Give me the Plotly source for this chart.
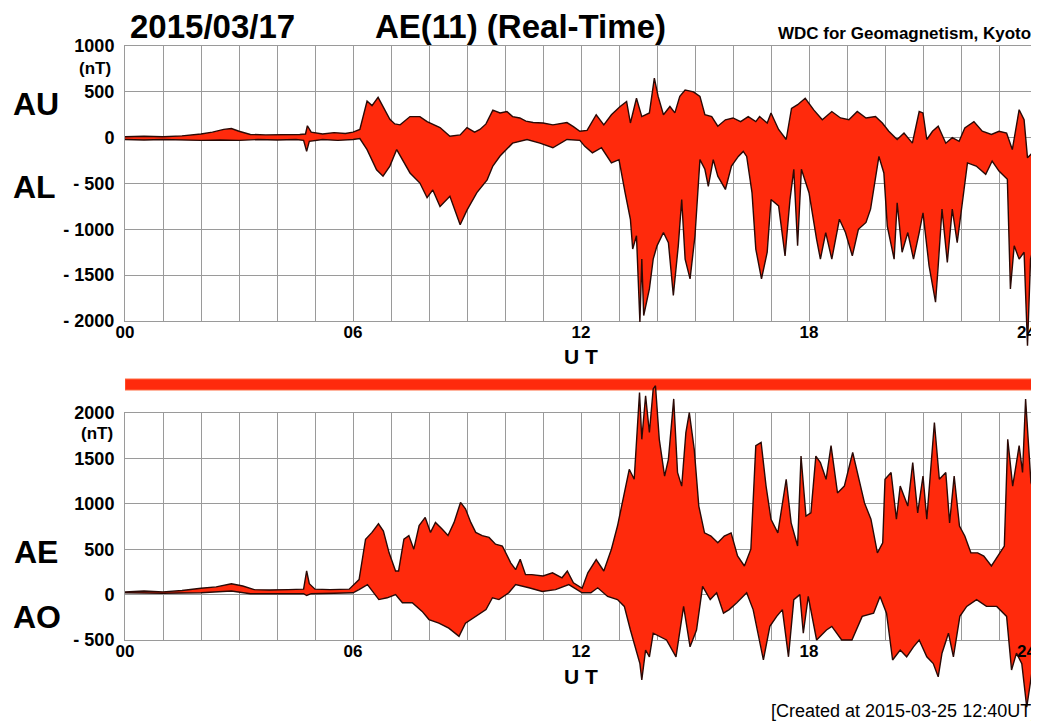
import plotly.graph_objects as go

# ---------------- data (hours UT, nT) ----------------
t_au = [0, 0.5, 1.0, 1.5, 2.0, 2.3, 2.6, 2.8, 3.0, 3.3, 3.7, 4.2, 4.6, 4.75, 4.8, 4.9, 5.2, 5.5, 5.8, 6.0,
        6.18, 6.37, 6.5, 6.66, 6.84, 6.97, 7.1, 7.24, 7.5, 7.76, 7.95, 8.1, 8.29, 8.55, 8.82, 9.0, 9.2, 9.34,
        9.5, 9.68, 9.87, 10.05, 10.2, 10.39, 10.55, 10.74, 11.0, 11.26, 11.45, 11.63, 11.8, 11.97, 12.16,
        12.4, 12.6, 12.8, 13.03, 13.2, 13.3, 13.46, 13.6, 13.8, 13.93, 14.03, 14.17, 14.34, 14.47, 14.6,
        14.74, 14.96, 15.13, 15.26, 15.44, 15.6, 15.8, 16.0, 16.2, 16.4, 16.6, 16.7, 16.9, 17.0, 17.2, 17.4,
        17.54, 17.7, 17.9, 18.13, 18.35, 18.6, 18.83, 19.05, 19.27, 19.5, 19.75, 19.93, 20.1, 20.32, 20.5,
        20.72, 20.9, 21.0, 21.1, 21.25, 21.4, 21.6, 21.77, 21.95, 22.1, 22.34, 22.56, 22.8, 23.0, 23.2,
        23.35, 23.53, 23.66, 23.75, 23.88, 24.0]
au = [10, 15, 10, 20, 40, 60, 90, 100, 70, 35, 30, 30, 35, 40, 130, 60, 40, 55, 45, 60,
      90, 400, 350, 440, 300, 200, 150, 140, 230, 230, 175, 150, 110, 15, 30, 110, 60, 90,
      150, 300, 270, 285, 230, 215, 180, 165, 160, 140, 150, 165, 120, 70, 80,
      250, 140, 250, 340, 395, 160, 430, 230, 270, 650, 450, 250, 340, 270, 450,
      520, 500, 450, 250, 230, 125, 195, 215, 175, 230, 175, 230, 160, 270, 90, -20,
      320, 360, 430, 300, 195, 285, 215, 195, 285, 215, 230, 160, 70, -20, 50,
      -60, 285, 270, -20, 70, 125, -60, 0, -40, 105, 175, 70, 35, 70, 50,
      -130, 305, 195, -220, -165, -20]

t_al = [0, 0.5, 1.0, 1.5, 2.0, 2.5, 3.0, 3.5, 4.0, 4.5, 4.7, 4.78, 4.85, 5.2, 5.6, 6.0, 6.18, 6.37, 6.62,
        6.79, 6.97, 7.15, 7.3, 7.5, 7.76, 7.95, 8.1, 8.29, 8.55, 8.82, 9.0, 9.26, 9.53, 9.68, 9.87, 10.2,
        10.58, 10.92, 11.26, 11.63, 11.97, 12.1, 12.3, 12.54, 12.8, 13.0, 13.16, 13.3, 13.36, 13.46, 13.55,
        13.6, 13.65, 13.8, 13.9, 14.0, 14.17, 14.3, 14.43, 14.56, 14.65, 14.74, 14.87, 15.0, 15.13, 15.26,
        15.35, 15.48, 15.6, 15.8, 15.96, 16.14, 16.27, 16.36, 16.5, 16.6, 16.75, 16.9, 17.0, 17.2, 17.37,
        17.5, 17.6, 17.7, 17.8, 18.0, 18.2, 18.3, 18.44, 18.6, 18.8, 18.96, 19.14, 19.3, 19.5, 19.62, 19.84,
        19.97, 20.06, 20.24, 20.32, 20.45, 20.6, 20.75, 20.9, 21.0, 21.16, 21.33, 21.4, 21.5, 21.64, 21.77,
        21.9, 22.03, 22.17, 22.4, 22.65, 22.82, 23.0, 23.22, 23.3, 23.4, 23.53, 23.66, 23.75, 23.83, 23.92,
        24.0]
al = [-20, -25, -20, -25, -30, -25, -30, -20, -25, -20, -30, -150, -40, -20, -30, -20, -10, -130, -350,
      -420, -310, -130, -240, -385, -495, -655, -570, -750, -640, -950, -790, -600, -460, -310, -200, -60,
      -20, -60, -110, -20, -30, -95, -165, -110, -275, -240, -600, -890, -1215, -1070, -2010,
      -1325, -1940, -1650, -1325, -1180, -1035, -1145, -1720, -1180, -675, -1325, -1540, -1070, -240, -345,
      -530, -240, -420, -565, -310, -205, -150, -205, -600, -1215, -1540, -1250, -675, -745, -1290,
      -675, -345, -1180, -345, -600, -1110, -1325, -1035, -1325, -890, -1035, -1290, -1000, -925, -780, -205,
      -385, -965, -1325, -710, -1250, -1035, -1325, -1035, -820, -1400, -1795, -1400, -780, -1360, -780,
      -1145, -710, -275, -310, -400, -255, -365, -455, -1650, -1180, -1325, -1250, -2270, -1325, -1180,
      -530]

t_ae = [0, 0.5, 1.0, 1.5, 2.0, 2.4, 2.8, 3.1, 3.4, 3.8, 4.3, 4.7, 4.78, 4.85, 5.0, 5.4, 5.9, 6.16, 6.33,
        6.5, 6.67, 6.8, 6.95, 7.12, 7.2, 7.34, 7.47, 7.6, 7.74, 7.9, 8.04, 8.17, 8.35, 8.5, 8.66, 8.83, 8.96,
        9.1, 9.23, 9.4, 9.58, 9.75, 9.93, 10.15, 10.28, 10.4, 10.54, 10.7, 11.0, 11.25, 11.5, 11.64, 11.8,
        12.03, 12.18, 12.4, 12.6, 12.8, 12.96, 13.14, 13.27, 13.4, 13.54, 13.6, 13.7, 13.8, 13.9, 13.96,
        14.06, 14.2, 14.3, 14.44, 14.54, 14.65, 14.76, 14.85, 14.98, 15.1, 15.25, 15.42, 15.6, 15.77, 15.95,
        16.12, 16.3, 16.47, 16.6, 16.74, 16.87, 17.0, 17.18, 17.4, 17.53, 17.7, 17.79, 17.92, 18.05, 18.18,
        18.3, 18.45, 18.58, 18.75, 18.93, 19.15, 19.28, 19.46, 19.63, 19.8, 19.94, 20.0, 20.16, 20.3, 20.4,
        20.6, 20.73, 20.86, 21.0, 21.1, 21.3, 21.43, 21.6, 21.7, 21.82, 21.96, 22.1, 22.26, 22.44, 22.6,
        22.8, 22.96, 23.14, 23.23, 23.36, 23.53, 23.62, 23.7, 23.84, 24.0]
ae = [30, 40, 30, 45, 70, 85, 120, 95, 55, 50, 55, 60, 260, 120, 60, 55, 60, 165, 610,
      685, 780, 700, 460, 260, 260, 610, 650, 500, 760, 850, 685, 795, 720, 650, 795, 1015, 945,
      795, 685, 650, 630, 555, 535, 350, 275, 390, 220, 220, 205, 240, 185, 260, 130,
      70, 240, 385, 260, 500, 755, 1120, 1380, 1270, 2225, 1710, 2190, 1785, 2265, 2300,
      1710, 1305, 1490, 2155, 1345, 1195, 1785, 2005, 1600, 975, 680, 645, 570, 645, 680,
      425, 315, 500, 1640, 1675, 1195, 830, 680, 1270, 790, 535, 1525, 865, 900, 1525,
      1455, 1270, 1640, 1120, 1195, 1565, 1345, 1010, 830, 460, 570, 1270, 1345, 830, 1195,
      975, 1455, 900, 1305, 830, 1895, 1270, 1345, 790, 1305, 755, 645, 460, 460, 425,
      315, 425, 535, 1710, 1195, 1640, 1345, 2155, 1235, 1050]

t_ao = [0, 1.0, 2.0, 2.8, 3.3, 4.0, 4.7, 4.78, 4.9, 5.5, 6.0, 6.16, 6.38, 6.68, 6.9, 7.12, 7.3, 7.56, 7.82,
        8.0, 8.26, 8.52, 8.79, 8.96, 9.23, 9.5, 9.67, 9.84, 10.1, 10.28, 10.63, 10.98, 11.33, 11.68, 12.03,
        12.26, 12.44, 12.7, 12.96, 13.14, 13.3, 13.55, 13.6, 13.7, 13.8, 13.9, 14.25, 14.5, 14.7, 14.87,
        15.04, 15.2, 15.4, 15.57, 15.75, 15.9, 16.1, 16.36, 16.53, 16.7, 16.8, 16.97, 17.15, 17.3, 17.46,
        17.6, 17.76, 17.85, 17.98, 18.2, 18.46, 18.6, 18.86, 19.13, 19.4, 19.7, 19.87, 20.04, 20.2, 20.4,
        20.57, 20.75, 20.9, 21.1, 21.27, 21.4, 21.5, 21.67, 21.8, 21.97, 22.15, 22.41, 22.67, 22.94, 23.2,
        23.33, 23.46, 23.6, 23.73, 23.9, 24.0]
ao = [20, 15, 20, 40, 10, 10, 10, -10, 10, 15, 20, 55, 110, -55, -35, 0, -90, -90, -185,
      -275, -315, -370, -460, -315, -240, -165, -35, -55, 20, 110, 75, 35, 55, 110, 20,
      20, 75, -20, -55, -130, -390, -760, -940, -610, -685, -425, -500, -685, -130, -575,
      -390, 90, -55, 20, -205, -165, -90, 20, -165, -500, -720, -350, -240, -165, -685,
      -55, 0, -425, -20, -500, -390, -350, -500, -500, -240, -205, -20, -205, -720, -610,
      -685, -575, -500, -685, -760, -905, -645, -425, -685, -240, -130, -55, -130, -130, -240,
      -830, -645, -760, -1240, -760, -600]

hours = list(range(0, 25))
# the last label ("24") sits on the right edge; it is written as a right-aligned label instead
hour_labels = ["00" if h == 0 else ("%02d" % h if (h % 6 == 0 and h < 24) else "") for h in hours]
end_label = "24"
top_ticks = [1000, 500, 0, -500, -1000, -1500, -2000]
top_ticktext = ["1000", "500", "0", "- 500", "- 1000", "- 1500", "- 2000"]
bot_ticks = [2000, 1500, 1000, 500, 0, -500]
bot_ticktext = ["2000", "1500", "1000", "500", "0", "- 500"]

# ---------------- geometry / styling ----------------
# the page body adds an 8 px margin, so the figure is drawn 8 px in from the top-left corner
OFF = 8
W, H = 1039 - OFF, 723 - OFF
FILL = "#ff2a0c"
EDGE = "#2a0905"
GRID = "#9a9a9a"
FONT = "Liberation Sans"


def px(x):
    return (x - OFF) / W


def py(y):
    return 1 - (y - OFF) / H


X0, X1 = 125, 1037            # plot frame, page pixels
T_TOP, T_BOT = 46, 321        # top panel 1000 .. -2000
B_TOP, B_BOT = 413, 640       # bottom panel 2000 .. -500


def extend(frame_top, frame_bot, vtop, vbot, new_top, new_bot):
    """value range for a taller data layer that maps values exactly like the frame"""
    k = (vtop - vbot) / (frame_bot - frame_top)
    return [vbot - (new_bot - frame_bot) * k, vtop + (frame_top - new_top) * k]


fig = go.Figure()

# visible frame axes (grid + ticks)
fig.add_trace(go.Scatter(x=[], y=[], xaxis="x", yaxis="y"))
fig.add_trace(go.Scatter(x=[], y=[], xaxis="x2", yaxis="y2"))

# top panel data layer: AU / AL
fig.add_trace(go.Scatter(x=t_au + t_al[::-1], y=au + al[::-1], fill="toself", fillcolor=FILL,
                         line=dict(width=0), mode="lines", hoverinfo="skip", xaxis="x3", yaxis="y3"))
fig.add_trace(go.Scatter(x=t_au, y=au, mode="lines", line=dict(color=EDGE, width=1.4), xaxis="x3", yaxis="y3"))
fig.add_trace(go.Scatter(x=t_al, y=al, mode="lines", line=dict(color=EDGE, width=1.4), xaxis="x3", yaxis="y3"))

# bottom panel data layer: AE / AO
fig.add_trace(go.Scatter(x=t_ae + t_ao[::-1], y=ae + ao[::-1], fill="toself", fillcolor=FILL,
                         line=dict(width=0), mode="lines", hoverinfo="skip", xaxis="x4", yaxis="y4"))
fig.add_trace(go.Scatter(x=t_ae, y=ae, mode="lines", line=dict(color=EDGE, width=1.4), xaxis="x4", yaxis="y4"))
fig.add_trace(go.Scatter(x=t_ao, y=ao, mode="lines", line=dict(color=EDGE, width=1.4), xaxis="x4", yaxis="y4"))

ytickfont = dict(family=FONT, size=18, color="black", weight="bold")
xtickfont = dict(family=FONT, size=17, color="black", weight="bold")
xcommon = dict(range=[0, 24], tickvals=hours, ticktext=hour_labels, showgrid=True, gridcolor=GRID,
               gridwidth=1, zeroline=False, showline=True, linecolor=GRID, mirror=True, ticks="",
               tickfont=xtickfont, tickangle=0, automargin=False, fixedrange=True,
               ticklabelstandoff=-4, ticklabeloverflow="allow")
ycommon = dict(showgrid=True, gridcolor=GRID, gridwidth=1, zeroline=False, showline=True, linecolor=GRID,
               mirror=True, ticks="", tickfont=ytickfont, ticklabelstandoff=6, automargin=False)
hidden = dict(visible=False, automargin=False, fixedrange=True)

top_ext = [py(355), py(T_TOP)]
bot_ext = [py(723), py(381)]

fig.update_layout(
    width=W, height=H, autosize=False, showlegend=False,
    margin=dict(l=0, r=0, t=0, b=0, pad=0),
    paper_bgcolor="white", plot_bgcolor="rgba(0,0,0,0)",
    xaxis=dict(domain=[px(X0), px(X1)], anchor="y", **xcommon),
    yaxis=dict(domain=[py(T_BOT), py(T_TOP)], anchor="x", range=[-2000, 1000], tickvals=top_ticks,
               ticktext=top_ticktext, **ycommon),
    xaxis2=dict(domain=[px(X0), px(X1)], anchor="y2", **xcommon),
    yaxis2=dict(domain=[py(B_BOT), py(B_TOP)], anchor="x2", range=[-500, 2000], tickvals=bot_ticks,
                ticktext=bot_ticktext, **ycommon),
    xaxis3=dict(domain=[px(X0), px(X1)], anchor="y3", range=[0, 24], **hidden),
    yaxis3=dict(domain=top_ext, anchor="x3", range=extend(T_TOP, T_BOT, 1000, -2000, T_TOP, 355), **hidden),
    xaxis4=dict(domain=[px(X0), px(X1)], anchor="y4", range=[0, 24], **hidden),
    yaxis4=dict(domain=bot_ext, anchor="x4", range=extend(B_TOP, B_BOT, 2000, -500, 381, 723), **hidden),
)

# status bar between panels
fig.add_shape(type="rect", xref="x", yref="paper", x0=0, x1=24, y0=py(390), y1=py(379),
              fillcolor=FILL, line=dict(color="#ff6a40", width=1), layer="below")


def label(text, x, y, size, xanchor="center", weight="bold"):
    fig.add_annotation(text=text, x=px(x), y=py(y), xref="paper", yref="paper", showarrow=False,
                       xanchor=xanchor, yanchor="middle",
                       font=dict(family=FONT, size=size, color="black", weight=weight))


label("2015/03/17", 212, 27, 33)
label("AE(11) (Real-Time)", 520, 27, 33)
label("WDC for Geomagnetism, Kyoto", 1033, 33, 17, xanchor="right")
label("AU", 36, 104, 32)
label("AL", 34, 187, 32)
label("AE", 36, 552, 32)
label("AO", 37, 617, 32)
label("(nT)", 95, 68, 17)
label("(nT)", 97, 433, 17)
label("U T", 581, 356, 21)
label("U T", 581, 676, 21)
label(end_label, 1038, 332, 17, xanchor="right")
label(end_label, 1038, 651, 17, xanchor="right")
label("[Created at 2015-03-25 12:40UT]", 1038, 711, 18, xanchor="right", weight="normal")

fig.write_html("out.html")
